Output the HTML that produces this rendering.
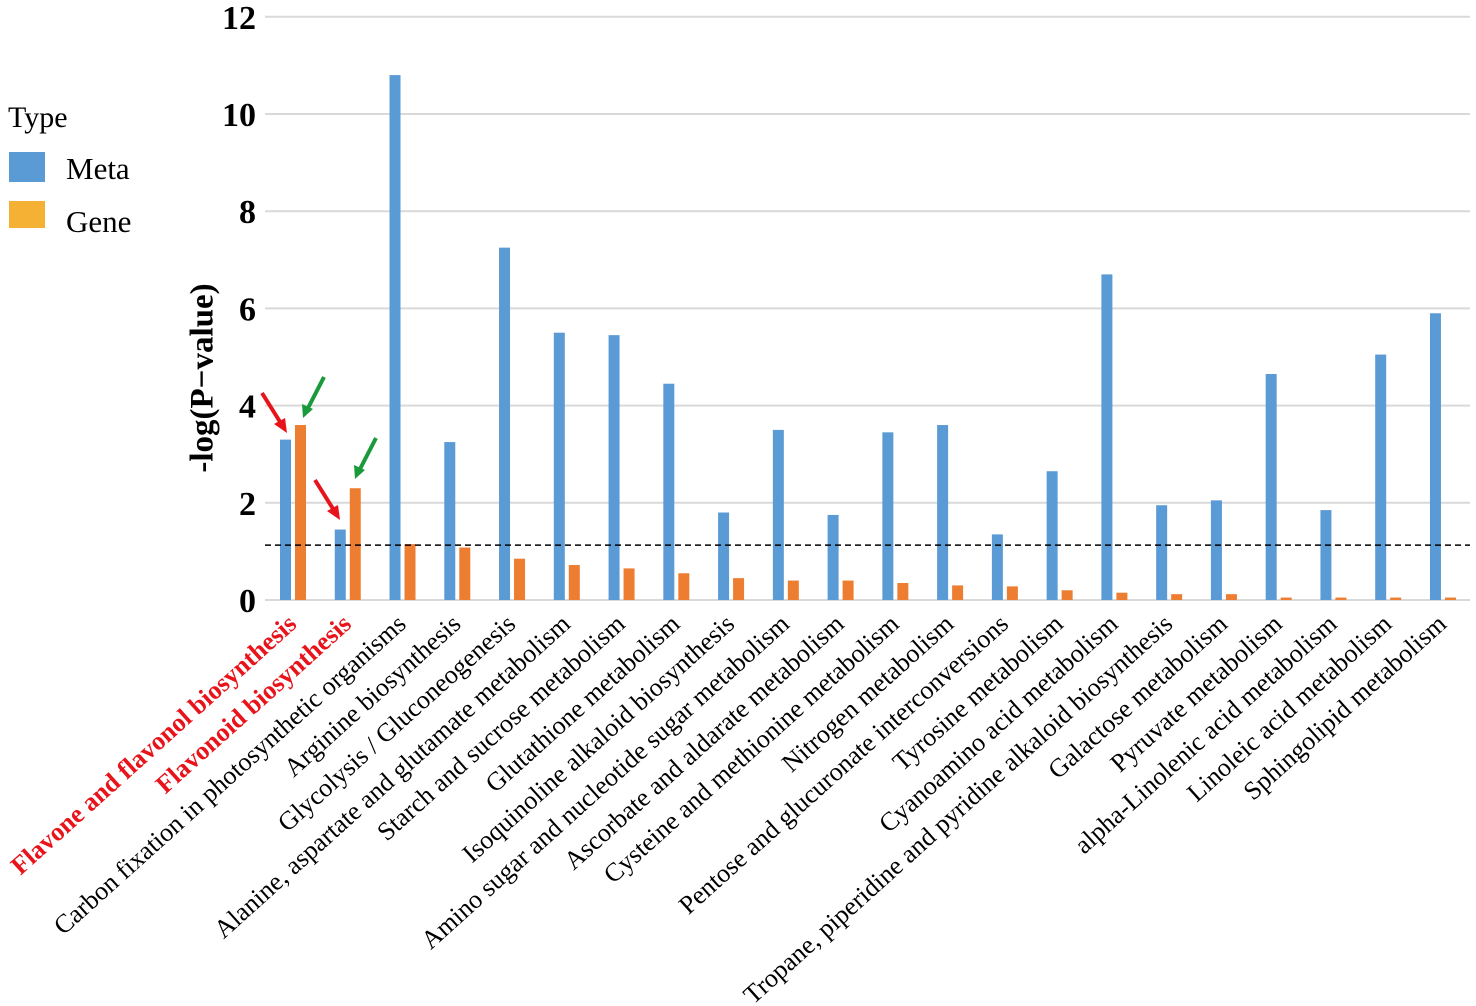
<!DOCTYPE html>
<html><head><meta charset="utf-8"><style>
html,body{margin:0;padding:0;background:#fff;}
svg{display:block;font-family:"Liberation Serif",serif;}
</style></head><body>
<svg id="chart" width="1476" height="1006" viewBox="0 0 1476 1006">
<g id="grid"></g>
<g id="yticks"></g>
<g id="bars"></g>
<g id="xlabels"></g>
<text transform="translate(205,378) rotate(-90)" text-anchor="middle" font-size="33" font-weight="bold" dominant-baseline="middle">-log(P−value)</text>
<g>
<text x="8" y="127" font-size="30">Type</text>
<g><rect x="9" y="152" width="36" height="30" fill="#5b9bd5"/><text x="66" y="179" font-size="31">Meta</text></g>
<g><rect x="9" y="201" width="36" height="27" fill="#f5b133"/><text x="66" y="232" font-size="31">Gene</text></g>
</g>
<g>
<path d="M262,393 L282,425" stroke="#e8141b" stroke-width="4"/><polygon points="287,433 274,424 285,418" fill="#e8141b"/>
<path d="M324,377 L307,410" stroke="#1a9a3a" stroke-width="4"/><polygon points="303,418 302,404 313,409" fill="#1a9a3a"/>
<path d="M315,480 L335,512" stroke="#e8141b" stroke-width="4"/><polygon points="340,520 327,511 338,505" fill="#e8141b"/>
<path d="M376,438 L359,471" stroke="#1a9a3a" stroke-width="4"/><polygon points="355,479 354,465 365,470" fill="#1a9a3a"/>
</g>
</svg>
<script>
const categories=["Flavone and flavonol biosynthesis","Flavonoid biosynthesis","Carbon fixation in photosynthetic organisms","Arginine biosynthesis","Glycolysis / Gluconeogenesis","Alanine, aspartate and glutamate metabolism","Starch and sucrose metabolism","Glutathione metabolism","Isoquinoline alkaloid biosynthesis","Amino sugar and nucleotide sugar metabolism","Ascorbate and aldarate metabolism","Cysteine and methionine metabolism","Nitrogen metabolism","Pentose and glucuronate interconversions","Tyrosine metabolism","Cyanoamino acid metabolism","Tropane, piperidine and pyridine alkaloid biosynthesis","Galactose metabolism","Pyruvate metabolism","alpha-Linolenic acid metabolism","Linoleic acid metabolism","Sphingolipid metabolism"];
const metaValues=[3.3,1.45,10.8,3.25,7.25,5.5,5.45,4.45,1.8,3.5,1.75,3.45,3.6,1.35,2.65,6.7,1.95,2.05,4.65,1.85,5.05,5.9];
const geneValues=[3.6,2.3,1.15,1.08,0.85,0.72,0.65,0.55,0.45,0.4,0.4,0.35,0.3,0.28,0.2,0.15,0.12,0.12,0.05,0.05,0.05,0.05];
const yTicks=[0,2,4,6,8,10,12];
const threshold=1.13;
const highlighted=[0,1];
const NS="http://www.w3.org/2000/svg";
const y=v=>600-v*48.6;
const xc=i=>292+i*54.76;
function mk(tag,attrs,parent){const e=document.createElementNS(NS,tag);for(const k in attrs)e.setAttribute(k,attrs[k]);parent.appendChild(e);return e;}
const grid=document.getElementById('grid'),yt=document.getElementById('yticks'),bars=document.getElementById('bars'),xl=document.getElementById('xlabels');
yTicks.forEach(t=>{
  const l=mk('line',{x1:265,x2:1470,y1:y(t),y2:y(t),stroke:'#d9d9d9','stroke-width':2},grid);
  
  
  const tx=mk('text',{x:256,y:y(t)+12,'text-anchor':'end','font-size':34,'font-weight':'bold'},yt);
  tx.textContent=t;
  
  
});
categories.forEach((c,i)=>{
  const m=mk('rect',{x:xc(i)-12,y:y(metaValues[i]),width:11,height:metaValues[i]*48.6,fill:'#5b9bd5'},bars);
  
  
  const g=mk('rect',{x:xc(i)+3,y:y(geneValues[i]),width:11,height:geneValues[i]*48.6,fill:'#ed7d31'},bars);
  
  
  const hl=highlighted.includes(i);
  const t=mk('text',{transform:`translate(${xc(i)+6},626) rotate(-42)`,'text-anchor':'end','font-size':26,'font-weight':hl?'bold':'normal',fill:hl?'#e8141b':'#000'},xl);
  t.textContent=c;
  
  
});
const d=mk('line',{x1:265,x2:1470,y1:y(threshold),y2:y(threshold),stroke:'#000','stroke-width':1.5,'stroke-dasharray':'6,4'},bars);


</script>
</body></html>
